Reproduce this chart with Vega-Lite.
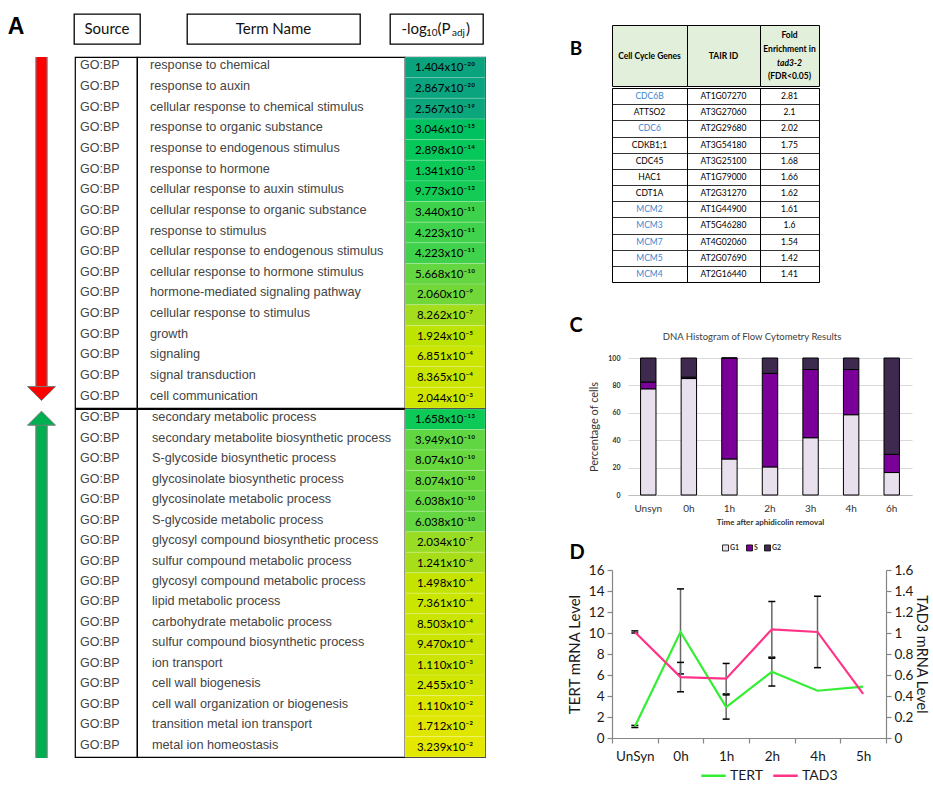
{
"$schema": "https://vega.github.io/schema/vega-lite/v6.json",
"padding": {"left": 0, "top": 13, "right": 0, "bottom": 0},
"background": "#ffffff",
"config": {"view": {"stroke": null}, "font": "Lato", "axis": {"labelFont": "Lato", "titleFont": "Lato"}, "legend": {"labelFont": "Lato"}, "title": {"font": "Lato"}},
"datasets": {
"terms": [
{"group": 1, "rank": 1, "source": "GO:BP", "term": "response to chemical", "label": "1.404x10⁻²⁰", "neglog": 19.853},
{"group": 1, "rank": 2, "source": "GO:BP", "term": "response to auxin", "label": "2.867x10⁻²⁰", "neglog": 19.543},
{"group": 1, "rank": 3, "source": "GO:BP", "term": "cellular response to chemical stimulus", "label": "2.567x10⁻¹⁹", "neglog": 18.591},
{"group": 1, "rank": 4, "source": "GO:BP", "term": "response to organic substance", "label": "3.046x10⁻¹⁵", "neglog": 14.516},
{"group": 1, "rank": 5, "source": "GO:BP", "term": "response to endogenous stimulus", "label": "2.898x10⁻¹⁴", "neglog": 13.538},
{"group": 1, "rank": 6, "source": "GO:BP", "term": "response to hormone", "label": "1.341x10⁻¹³", "neglog": 12.873},
{"group": 1, "rank": 7, "source": "GO:BP", "term": "cellular response to auxin stimulus", "label": "9.773x10⁻¹³", "neglog": 12.010},
{"group": 1, "rank": 8, "source": "GO:BP", "term": "cellular response to organic substance", "label": "3.440x10⁻¹¹", "neglog": 10.463},
{"group": 1, "rank": 9, "source": "GO:BP", "term": "response to stimulus", "label": "4.223x10⁻¹¹", "neglog": 10.374},
{"group": 1, "rank": 10, "source": "GO:BP", "term": "cellular response to endogenous stimulus", "label": "4.223x10⁻¹¹", "neglog": 10.374},
{"group": 1, "rank": 11, "source": "GO:BP", "term": "cellular response to hormone stimulus", "label": "5.668x10⁻¹⁰", "neglog": 9.247},
{"group": 1, "rank": 12, "source": "GO:BP", "term": "hormone-mediated signaling pathway", "label": "2.060x10⁻⁹", "neglog": 8.686},
{"group": 1, "rank": 13, "source": "GO:BP", "term": "cellular response to stimulus", "label": "8.262x10⁻⁷", "neglog": 6.083},
{"group": 1, "rank": 14, "source": "GO:BP", "term": "growth", "label": "1.924x10⁻⁵", "neglog": 4.716},
{"group": 1, "rank": 15, "source": "GO:BP", "term": "signaling", "label": "6.851x10⁻⁴", "neglog": 3.164},
{"group": 1, "rank": 16, "source": "GO:BP", "term": "signal transduction", "label": "8.365x10⁻⁴", "neglog": 3.078},
{"group": 1, "rank": 17, "source": "GO:BP", "term": "cell communication", "label": "2.044x10⁻³", "neglog": 2.690},
{"group": 2, "rank": 1, "source": "GO:BP", "term": "secondary metabolic process", "label": "1.658x10⁻¹³", "neglog": 12.780},
{"group": 2, "rank": 2, "source": "GO:BP", "term": "secondary metabolite biosynthetic process", "label": "3.949x10⁻¹⁰", "neglog": 9.404},
{"group": 2, "rank": 3, "source": "GO:BP", "term": "S-glycoside biosynthetic process", "label": "8.074x10⁻¹⁰", "neglog": 9.093},
{"group": 2, "rank": 4, "source": "GO:BP", "term": "glycosinolate biosynthetic process", "label": "8.074x10⁻¹⁰", "neglog": 9.093},
{"group": 2, "rank": 5, "source": "GO:BP", "term": "glycosinolate metabolic process", "label": "6.038x10⁻¹⁰", "neglog": 9.219},
{"group": 2, "rank": 6, "source": "GO:BP", "term": "S-glycoside metabolic process", "label": "6.038x10⁻¹⁰", "neglog": 9.219},
{"group": 2, "rank": 7, "source": "GO:BP", "term": "glycosyl compound biosynthetic process", "label": "2.034x10⁻⁷", "neglog": 6.692},
{"group": 2, "rank": 8, "source": "GO:BP", "term": "sulfur compound metabolic process", "label": "1.241x10⁻⁶", "neglog": 5.906},
{"group": 2, "rank": 9, "source": "GO:BP", "term": "glycosyl compound metabolic process", "label": "1.498x10⁻⁴", "neglog": 3.824},
{"group": 2, "rank": 10, "source": "GO:BP", "term": "lipid metabolic process", "label": "7.361x10⁻⁴", "neglog": 3.133},
{"group": 2, "rank": 11, "source": "GO:BP", "term": "carbohydrate metabolic process", "label": "8.503x10⁻⁴", "neglog": 3.070},
{"group": 2, "rank": 12, "source": "GO:BP", "term": "sulfur compound biosynthetic process", "label": "9.470x10⁻⁴", "neglog": 3.024},
{"group": 2, "rank": 13, "source": "GO:BP", "term": "ion transport", "label": "1.110x10⁻³", "neglog": 2.955},
{"group": 2, "rank": 14, "source": "GO:BP", "term": "cell wall biogenesis", "label": "2.455x10⁻³", "neglog": 2.610},
{"group": 2, "rank": 15, "source": "GO:BP", "term": "cell wall organization or biogenesis", "label": "1.110x10⁻²", "neglog": 1.955},
{"group": 2, "rank": 16, "source": "GO:BP", "term": "transition metal ion transport", "label": "1.712x10⁻²", "neglog": 1.766},
{"group": 2, "rank": 17, "source": "GO:BP", "term": "metal ion homeostasis", "label": "3.239x10⁻²", "neglog": 1.490}
],
"arrows": [
{"group": 1, "direction": "down", "shaft_top": 0, "shaft_bottom": 16.0, "head": 16.3},
{"group": 2, "direction": "up", "shaft_top": 0.75, "shaft_bottom": 17.05, "head": 0.45}
],
"genes": [
{"rank": 1, "gene": "CDC6B", "tair": "AT1G07270", "fold": 2.81, "licensing": "yes"},
{"rank": 2, "gene": "ATTSO2", "tair": "AT3G27060", "fold": 2.1, "licensing": "no"},
{"rank": 3, "gene": "CDC6", "tair": "AT2G29680", "fold": 2.02, "licensing": "yes"},
{"rank": 4, "gene": "CDKB1;1", "tair": "AT3G54180", "fold": 1.75, "licensing": "no"},
{"rank": 5, "gene": "CDC45", "tair": "AT3G25100", "fold": 1.68, "licensing": "no"},
{"rank": 6, "gene": "HAC1", "tair": "AT1G79000", "fold": 1.66, "licensing": "no"},
{"rank": 7, "gene": "CDT1A", "tair": "AT2G31270", "fold": 1.62, "licensing": "no"},
{"rank": 8, "gene": "MCM2", "tair": "AT1G44900", "fold": 1.61, "licensing": "yes"},
{"rank": 9, "gene": "MCM3", "tair": "AT5G46280", "fold": 1.6, "licensing": "yes"},
{"rank": 10, "gene": "MCM7", "tair": "AT4G02060", "fold": 1.54, "licensing": "yes"},
{"rank": 11, "gene": "MCM5", "tair": "AT2G07690", "fold": 1.42, "licensing": "yes"},
{"rank": 12, "gene": "MCM4", "tair": "AT2G16440", "fold": 1.41, "licensing": "yes"}
],
"flow": [
{"time": "Unsyn", "phase": "G1", "phase_order": 1, "percent": 77.5},
{"time": "Unsyn", "phase": "S", "phase_order": 2, "percent": 5.0},
{"time": "Unsyn", "phase": "G2", "phase_order": 3, "percent": 17.5},
{"time": "0h", "phase": "G1", "phase_order": 1, "percent": 85.0},
{"time": "0h", "phase": "S", "phase_order": 2, "percent": 1.0},
{"time": "0h", "phase": "G2", "phase_order": 3, "percent": 14.0},
{"time": "1h", "phase": "G1", "phase_order": 1, "percent": 26.3},
{"time": "1h", "phase": "S", "phase_order": 2, "percent": 73.7},
{"time": "1h", "phase": "G2", "phase_order": 3, "percent": 0},
{"time": "2h", "phase": "G1", "phase_order": 1, "percent": 20.5},
{"time": "2h", "phase": "S", "phase_order": 2, "percent": 68.3},
{"time": "2h", "phase": "G2", "phase_order": 3, "percent": 11.2},
{"time": "3h", "phase": "G1", "phase_order": 1, "percent": 41.8},
{"time": "3h", "phase": "S", "phase_order": 2, "percent": 49.8},
{"time": "3h", "phase": "G2", "phase_order": 3, "percent": 8.4},
{"time": "4h", "phase": "G1", "phase_order": 1, "percent": 58.6},
{"time": "4h", "phase": "S", "phase_order": 2, "percent": 33.0},
{"time": "4h", "phase": "G2", "phase_order": 3, "percent": 8.4},
{"time": "6h", "phase": "G1", "phase_order": 1, "percent": 16.4},
{"time": "6h", "phase": "S", "phase_order": 2, "percent": 13.3},
{"time": "6h", "phase": "G2", "phase_order": 3, "percent": 70.3}
],
"mrna": [
{"time": "UnSyn", "series": "TERT", "value": 1.1, "lo": 1.0, "hi": 1.2},
{"time": "0h", "series": "TERT", "value": 10.1, "lo": 6.1, "hi": 14.2},
{"time": "1h", "series": "TERT", "value": 2.95, "lo": 1.8, "hi": 4.2},
{"time": "2h", "series": "TERT", "value": 6.3, "lo": 4.95, "hi": 7.7},
{"time": "4h", "series": "TERT", "value": 4.5, "lo": null, "hi": null},
{"time": "5h", "series": "TERT", "value": 4.9, "lo": null, "hi": null},
{"time": "UnSyn", "series": "TAD3", "value": 1.01, "lo": 1.0, "hi": 1.02},
{"time": "0h", "series": "TAD3", "value": 0.58, "lo": 0.44, "hi": 0.72},
{"time": "1h", "series": "TAD3", "value": 0.565, "lo": 0.41, "hi": 0.71},
{"time": "2h", "series": "TAD3", "value": 1.035, "lo": 0.76, "hi": 1.3},
{"time": "4h", "series": "TAD3", "value": 1.01, "lo": 0.67, "hi": 1.35},
{"time": "5h", "series": "TAD3", "value": 0.42, "lo": null, "hi": null}
]
},
"hconcat": [
{
"vconcat": [
{
"hconcat": [
{"width": 74, "height": 30, "data": {"values": [{}]}, "mark": {"type": "text", "font": "Liberation Sans", "fontSize": 23, "fontWeight": "bold", "dx": -21, "dy": -2, "color": "#000"}, "encoding": {"text": {"value": "A"}}},
{"width": 66, "height": 30, "view": {"stroke": "#000", "strokeWidth": 1.3}, "data": {"values": [{}]}, "mark": {"type": "text", "font": "Lato", "fontSize": 15, "color": "#111"}, "encoding": {"text": {"value": "Source"}}},
{"width": 47, "height": 30, "data": {"values": [{}]}, "mark": "text", "encoding": {"text": {"value": ""}}},
{"width": 173, "height": 30, "view": {"stroke": "#000", "strokeWidth": 1.3}, "data": {"values": [{}]}, "mark": {"type": "text", "font": "Lato", "fontSize": 15, "color": "#111"}, "encoding": {"text": {"value": "Term Name"}}},
{"width": 30, "height": 30, "data": {"values": [{}]}, "mark": "text", "encoding": {"text": {"value": ""}}},
{"width": 93, "height": 30, "view": {"stroke": "#000", "strokeWidth": 1.3}, "data": {"values": [{}]},
 "layer": [
  {"mark": {"type": "text", "align": "left", "dx": -35, "font": "Lato", "fontSize": 15, "color": "#111"}, "encoding": {"text": {"value": "-log"}}},
  {"mark": {"type": "text", "align": "left", "dx": -10.5, "dy": 4, "font": "Lato", "fontSize": 10, "color": "#111"}, "encoding": {"text": {"value": "10"}}},
  {"mark": {"type": "text", "align": "left", "dx": 1, "font": "Lato", "fontSize": 15, "color": "#111"}, "encoding": {"text": {"value": "(P"}}},
  {"mark": {"type": "text", "align": "left", "dx": 15.5, "dy": 4, "font": "Lato", "fontSize": 10, "color": "#111"}, "encoding": {"text": {"value": "adj"}}},
  {"mark": {"type": "text", "align": "left", "dx": 29.5, "font": "Lato", "fontSize": 15, "color": "#111"}, "encoding": {"text": {"value": ")"}}}
 ]}
],
"spacing": 0, "bounds": "flush"
},
{
"vconcat": [
{
"hconcat": [
{"width": 75, "height": 351, "data": {"name": "arrows"}, "transform": [{"filter": "datum.group == 1"}],
 "encoding": {"x": {"field": "direction", "type": "nominal", "axis": null}},
 "layer": [
  {"mark": {"type": "rule", "strokeWidth": 12.5, "color": "#7a7a7a", "xOffset": 4}, "encoding": {"y": {"field": "shaft_top", "type": "quantitative", "scale": {"domain": [0, 17], "reverse": true, "nice": false, "zero": false}, "axis": null}, "y2": {"field": "shaft_bottom"}}},
  {"mark": {"type": "rule", "strokeWidth": 10, "xOffset": 4}, "encoding": {"y": {"field": "shaft_top", "type": "quantitative", "axis": null}, "y2": {"field": "shaft_bottom"}, "color": {"field": "direction", "type": "nominal", "scale": {"domain": ["down", "up"], "range": ["#ff0000", "#00b050"]}, "legend": null}}},
  {"mark": {"type": "point", "filled": true, "opacity": 1, "size": 784, "stroke": "#7a7a7a", "strokeWidth": 1, "xOffset": 4}, "encoding": {"y": {"field": "head", "type": "quantitative", "axis": null}, "color": {"field": "direction", "type": "nominal", "scale": {"domain": ["down", "up"], "range": ["#ff0000", "#00b050"]}, "legend": null}, "shape": {"field": "direction", "type": "nominal", "scale": {"domain": ["down", "up"], "range": ["M-1,-0.5L1,-0.5L0,0.5Z", "M-1,0.5L1,0.5L0,-0.5Z"]}, "legend": null}}}
 ]},
{"width": 62, "height": 351, "view": {"stroke": "#000", "strokeWidth": 1.2}, "data": {"name": "terms"}, "transform": [{"filter": "datum.group == 1"}],
 "mark": {"type": "text", "align": "left", "dx": 5, "dy": -2, "font": "Liberation Sans", "fontSize": 12.5, "color": "#444"},
 "encoding": {"y": {"field": "rank", "type": "ordinal", "axis": null, "scale": {"paddingInner": 0, "paddingOuter": 0}}, "x": {"datum": 0, "type": "quantitative", "scale": {"domain": [0, 1]}, "axis": null}, "text": {"field": "source"}}},
{"width": 268, "height": 351, "view": {"stroke": "#000", "strokeWidth": 1.2}, "data": {"name": "terms"}, "transform": [{"filter": "datum.group == 1"}],
 "mark": {"type": "text", "align": "left", "dx": 13, "dy": -2, "font": "Liberation Sans", "fontSize": 12.7, "color": "#444"},
 "encoding": {"y": {"field": "rank", "type": "ordinal", "axis": null, "scale": {"paddingInner": 0, "paddingOuter": 0}}, "x": {"datum": 0, "type": "quantitative", "scale": {"domain": [0, 1]}, "axis": null}, "text": {"field": "term"}}},
{"width": 80, "height": 351, "view": {"stroke": "#3a3a3a", "strokeWidth": 1.2}, "data": {"name": "terms"}, "transform": [{"filter": "datum.group == 1"}],
 "encoding": {"y": {"field": "rank", "type": "ordinal", "axis": null, "scale": {"paddingInner": 0, "paddingOuter": 0}}},
 "layer": [
  {"mark": {"type": "rect", "stroke": "#ffffff", "strokeOpacity": 0.3, "strokeWidth": 0.6}, "encoding": {"x": {"datum": 0, "type": "quantitative", "scale": {"domain": [0, 1]}, "axis": null}, "x2": {"datum": 1}, "color": {"field": "neglog", "type": "quantitative", "scale": {"domain": [1.49, 3.0, 4.7, 6.1, 8.7, 10.4, 12.0, 13.6, 14.6, 18.5, 19.9], "range": ["#e4e800", "#cbe500", "#bde300", "#a4dd1c", "#72d83a", "#3fd24c", "#13cb55", "#05c75a", "#00c060", "#0ba67c", "#0aa37e"]}, "legend": null}}},
  {"mark": {"type": "text", "font": "Lato", "fontSize": 11.5, "color": "#000", "dy": 1}, "encoding": {"text": {"field": "label"}}}
 ]}
],
"spacing": 0, "bounds": "flush", "resolve": {"scale": {"color": "independent", "shape": "independent"}}
},
{
"hconcat": [
{"width": 75, "height": 348, "data": {"name": "arrows"}, "transform": [{"filter": "datum.group == 2"}],
 "encoding": {"x": {"field": "direction", "type": "nominal", "axis": null}},
 "layer": [
  {"mark": {"type": "rule", "strokeWidth": 12.5, "color": "#7a7a7a", "xOffset": 4}, "encoding": {"y": {"field": "shaft_top", "type": "quantitative", "scale": {"domain": [0, 17], "reverse": true, "nice": false, "zero": false}, "axis": null}, "y2": {"field": "shaft_bottom"}}},
  {"mark": {"type": "rule", "strokeWidth": 10, "xOffset": 4}, "encoding": {"y": {"field": "shaft_top", "type": "quantitative", "axis": null}, "y2": {"field": "shaft_bottom"}, "color": {"field": "direction", "type": "nominal", "scale": {"domain": ["down", "up"], "range": ["#ff0000", "#00b050"]}, "legend": null}}},
  {"mark": {"type": "point", "filled": true, "opacity": 1, "size": 784, "stroke": "#7a7a7a", "strokeWidth": 1, "xOffset": 4}, "encoding": {"y": {"field": "head", "type": "quantitative", "axis": null}, "color": {"field": "direction", "type": "nominal", "scale": {"domain": ["down", "up"], "range": ["#ff0000", "#00b050"]}, "legend": null}, "shape": {"field": "direction", "type": "nominal", "scale": {"domain": ["down", "up"], "range": ["M-1,-0.5L1,-0.5L0,0.5Z", "M-1,0.5L1,0.5L0,-0.5Z"]}, "legend": null}}}
 ]},
{"width": 62, "height": 348, "view": {"stroke": "#000", "strokeWidth": 1.2}, "data": {"name": "terms"}, "transform": [{"filter": "datum.group == 2"}],
 "mark": {"type": "text", "align": "left", "dx": 5, "dy": -2, "font": "Liberation Sans", "fontSize": 12.5, "color": "#444"},
 "encoding": {"y": {"field": "rank", "type": "ordinal", "axis": null, "scale": {"paddingInner": 0, "paddingOuter": 0}}, "x": {"datum": 0, "type": "quantitative", "scale": {"domain": [0, 1]}, "axis": null}, "text": {"field": "source"}}},
{"width": 268, "height": 348, "view": {"stroke": "#000", "strokeWidth": 1.2}, "data": {"name": "terms"}, "transform": [{"filter": "datum.group == 2"}],
 "mark": {"type": "text", "align": "left", "dx": 15, "dy": -2, "font": "Liberation Sans", "fontSize": 12.7, "color": "#444"},
 "encoding": {"y": {"field": "rank", "type": "ordinal", "axis": null, "scale": {"paddingInner": 0, "paddingOuter": 0}}, "x": {"datum": 0, "type": "quantitative", "scale": {"domain": [0, 1]}, "axis": null}, "text": {"field": "term"}}},
{"width": 80, "height": 348, "view": {"stroke": "#3a3a3a", "strokeWidth": 1.2}, "data": {"name": "terms"}, "transform": [{"filter": "datum.group == 2"}],
 "encoding": {"y": {"field": "rank", "type": "ordinal", "axis": null, "scale": {"paddingInner": 0, "paddingOuter": 0}}},
 "layer": [
  {"mark": {"type": "rect", "stroke": "#ffffff", "strokeOpacity": 0.3, "strokeWidth": 0.6}, "encoding": {"x": {"datum": 0, "type": "quantitative", "scale": {"domain": [0, 1]}, "axis": null}, "x2": {"datum": 1}, "color": {"field": "neglog", "type": "quantitative", "scale": {"domain": [1.49, 3.0, 4.7, 6.1, 8.7, 10.4, 12.0, 13.6, 14.6, 18.5, 19.9], "range": ["#e4e800", "#cbe500", "#bde300", "#a4dd1c", "#72d83a", "#3fd24c", "#13cb55", "#05c75a", "#00c060", "#0ba67c", "#0aa37e"]}, "legend": null}}},
  {"mark": {"type": "text", "font": "Lato", "fontSize": 11.5, "color": "#000", "dy": 1}, "encoding": {"text": {"field": "label"}}}
 ]}
],
"spacing": 0, "bounds": "flush", "resolve": {"scale": {"color": "independent", "shape": "independent"}}
}
],
"spacing": -1, "resolve": {"scale": {"color": "independent", "shape": "independent"}}
}
],
"spacing": 5, "resolve": {"scale": {"color": "independent", "shape": "independent"}}
},
{
"vconcat": [
{"width": 1, "height": 10, "data": {"values": [{}]}, "mark": "text", "encoding": {"text": {"value": ""}}},
{
"vconcat": [
{
"hconcat": [
{"width": 51, "height": 61, "data": {"values": [{}]}, "mark": {"type": "text", "font": "Lato", "fontSize": 19, "fontWeight": "bold", "dx": -9.5, "dy": -6.5, "color": "#000"}, "encoding": {"text": {"value": "B"}}},
{
"vconcat": [
{
"hconcat": [
{"width": 75, "height": 61, "view": {"stroke": "#000", "fill": "#e2efda"}, "data": {"values": [{}]}, "mark": {"type": "text", "font": "Lato", "fontSize": 8.5, "fontWeight": "bold", "color": "#000"}, "encoding": {"text": {"value": "Cell Cycle Genes"}}},
{"width": 73, "height": 61, "view": {"stroke": "#000", "fill": "#e2efda"}, "data": {"values": [{}]}, "mark": {"type": "text", "font": "Lato", "fontSize": 8.5, "fontWeight": "bold", "color": "#000"}, "encoding": {"text": {"value": "TAIR ID"}}},
{"width": 59, "height": 61, "view": {"stroke": "#000", "fill": "#e2efda"}, "data": {"values": [{}]},
 "layer": [
  {"mark": {"type": "text", "font": "Lato", "fontSize": 8.5, "fontWeight": "bold", "color": "#000", "dy": -20.5}, "encoding": {"text": {"value": "Fold"}}},
  {"mark": {"type": "text", "font": "Lato", "fontSize": 8.5, "fontWeight": "bold", "color": "#000", "dy": -7}, "encoding": {"text": {"value": "Enrichment in"}}},
  {"mark": {"type": "text", "font": "Lato", "fontSize": 8.5, "fontWeight": "bold", "fontStyle": "italic", "color": "#000", "dy": 7}, "encoding": {"text": {"value": "tad3-2"}}},
  {"mark": {"type": "text", "font": "Lato", "fontSize": 8.5, "fontWeight": "bold", "color": "#000", "dy": 20.5}, "encoding": {"text": {"value": "(FDR<0.05)"}}}
 ]}
],
"spacing": 0, "bounds": "flush"
},
{
"hconcat": [
{"width": 75, "height": 194, "view": {"stroke": "#000"}, "data": {"name": "genes"},
 "mark": {"type": "text", "font": "Lato", "fontSize": 8.5},
 "encoding": {"y": {"field": "rank", "type": "ordinal", "scale": {"paddingInner": 0, "paddingOuter": 0}, "axis": {"title": null, "labels": false, "ticks": false, "domain": false, "grid": true, "gridColor": "#000", "gridWidth": 0.8, "gridOpacity": 1, "tickBand": "extent"}}, "text": {"field": "gene"}, "color": {"field": "licensing", "type": "nominal", "scale": {"domain": ["yes", "no"], "range": ["#3a86d0", "#000000"]}, "legend": null}}},
{"width": 73, "height": 194, "view": {"stroke": "#000"}, "data": {"name": "genes"},
 "mark": {"type": "text", "font": "Lato", "fontSize": 8.5, "color": "#000"},
 "encoding": {"y": {"field": "rank", "type": "ordinal", "scale": {"paddingInner": 0, "paddingOuter": 0}, "axis": {"title": null, "labels": false, "ticks": false, "domain": false, "grid": true, "gridColor": "#000", "gridWidth": 0.8, "gridOpacity": 1, "tickBand": "extent"}}, "text": {"field": "tair"}}},
{"width": 59, "height": 194, "view": {"stroke": "#000"}, "data": {"name": "genes"},
 "mark": {"type": "text", "font": "Lato", "fontSize": 8.5, "color": "#000"},
 "encoding": {"y": {"field": "rank", "type": "ordinal", "scale": {"paddingInner": 0, "paddingOuter": 0}, "axis": {"title": null, "labels": false, "ticks": false, "domain": false, "grid": true, "gridColor": "#000", "gridWidth": 0.8, "gridOpacity": 1, "tickBand": "extent"}}, "text": {"field": "fold", "type": "quantitative", "format": "~g"}}}
],
"spacing": 0, "bounds": "flush"
}
],
"spacing": 0
}
],
"spacing": 0
},
{
"vconcat": [
{
"hconcat": [
{"width": 68, "height": 137, "data": {"values": [{}]}, "mark": {"type": "text", "font": "Lato", "fontSize": 20, "fontWeight": "bold", "dx": -18, "dy": -100.5, "color": "#000"}, "encoding": {"text": {"value": "C"}}},
{"width": 284, "height": 137,
 "title": {"text": "DNA Histogram of Flow Cytometry Results", "fontSize": 9.5, "fontWeight": "normal", "color": "#404040", "offset": 13, "dx": -18},
 "data": {"name": "flow"},
 "mark": {"type": "bar", "stroke": "#000", "strokeWidth": 1},
 "encoding": {
  "x": {"field": "time", "type": "nominal", "sort": ["Unsyn", "0h", "1h", "2h", "3h", "4h", "6h"], "scale": {"paddingInner": 0.62, "paddingOuter": 0.31}, "axis": {"title": "Time after aphidicolin removal", "labelAngle": 0, "ticks": false, "domainColor": "#bfbfbf", "labelFontSize": 10, "labelColor": "#333", "labelPadding": 8, "titleFontSize": 8, "titleFontWeight": "bold", "titleColor": "#333", "titlePadding": 5}},
  "y": {"field": "percent", "type": "quantitative", "stack": "zero", "scale": {"domain": [0, 100], "nice": false}, "axis": {"values": [0, 20, 40, 60, 80, 100], "title": "Percentage of cells", "titleFontSize": 11, "titleFontWeight": "normal", "titleColor": "#333", "titlePadding": 8, "labelFontSize": 7, "labelFontWeight": "bold", "labelColor": "#333", "labelPadding": 8, "domain": false, "ticks": false, "gridColor": "#d9d9d9"}},
  "color": {"field": "phase", "type": "nominal", "scale": {"domain": ["G1", "S", "G2"], "range": ["#e8e0ec", "#7b0099", "#3f2a4f"]}, "legend": {"orient": "none", "legendX": 162, "legendY": 186, "direction": "horizontal", "title": null, "symbolType": "square", "symbolSize": 36, "symbolStrokeColor": "#000", "symbolStrokeWidth": 0.8, "labelFontSize": 7, "labelFontWeight": "bold", "labelColor": "#333", "columnPadding": 4, "labelOffset": 1}},
  "order": {"field": "phase_order", "type": "quantitative"}
 }}
],
"spacing": 0, "bounds": "flush"
},
{
"hconcat": [
{"width": 52, "height": 168, "data": {"values": [{}]}, "mark": {"type": "text", "font": "Lato", "fontSize": 20, "fontWeight": "bold", "dx": -9, "dy": -101, "color": "#000"}, "encoding": {"text": {"value": "D"}}},
{"width": 274, "height": 168,
 "data": {"name": "mrna"},
 "encoding": {"x": {"field": "time", "type": "nominal", "sort": ["UnSyn", "0h", "1h", "2h", "4h", "5h"], "scale": {"type": "band", "paddingInner": 0, "paddingOuter": 0}, "axis": {"title": null, "labelAngle": 0, "labelFontSize": 13.5, "labelColor": "#1a1a1a", "labelPadding": 6, "tickBand": "extent", "tickSize": 5, "tickColor": "#868686", "tickWidth": 1.2, "domainColor": "#868686", "domainWidth": 1.2, "grid": false}}},
 "layer": [
  {"transform": [{"filter": "datum.series == 'TERT'"}],
   "encoding": {"y": {"field": "value", "type": "quantitative", "title": "TERT mRNA Level", "scale": {"domain": [0, 16], "nice": false}, "axis": {"orient": "left", "values": [0, 2, 4, 6, 8, 10, 12, 14, 16], "title": "TERT mRNA Level", "titleFontSize": 15, "titleFontWeight": "normal", "titleColor": "#1a1a1a", "titlePadding": 6, "labelFontSize": 13.5, "labelColor": "#1a1a1a", "labelPadding": 3, "tickSize": 5, "tickColor": "#868686", "tickWidth": 1.2, "domainColor": "#868686", "domainWidth": 1.2, "grid": false}}},
   "layer": [
    {"transform": [{"filter": "datum.lo != null"}], "mark": {"type": "rule", "color": "#666666", "strokeWidth": 1.5}, "encoding": {"y": {"field": "lo", "type": "quantitative", "title": "TERT mRNA Level"}, "y2": {"field": "hi"}}},
    {"transform": [{"filter": "datum.lo != null"}], "mark": {"type": "point", "shape": "stroke", "size": 49, "color": "#000", "strokeWidth": 1.5, "opacity": 1}, "encoding": {"y": {"field": "lo", "type": "quantitative", "title": "TERT mRNA Level"}}},
    {"transform": [{"filter": "datum.lo != null"}], "mark": {"type": "point", "shape": "stroke", "size": 49, "color": "#000", "strokeWidth": 1.5, "opacity": 1}, "encoding": {"y": {"field": "hi", "type": "quantitative", "title": "TERT mRNA Level"}}},
    {"mark": {"type": "line", "strokeWidth": 2.2}, "encoding": {"color": {"field": "series", "type": "nominal", "scale": {"domain": ["TERT", "TAD3"], "range": ["#33ee33", "#ff3388"]}, "legend": {"orient": "none", "legendX": 140, "legendY": 192, "direction": "horizontal", "title": null, "symbolType": "stroke", "symbolSize": 600, "symbolStrokeWidth": 2.5, "labelFontSize": 14, "labelColor": "#1a1a1a", "columnPadding": 4, "labelOffset": 3}}}}
   ]},
  {"transform": [{"filter": "datum.series == 'TAD3'"}],
   "encoding": {"y": {"field": "value", "type": "quantitative", "title": "TAD3 mRNA Level", "scale": {"domain": [0, 1.6], "nice": false}, "axis": {"orient": "right", "values": [0, 0.2, 0.4, 0.6, 0.8, 1, 1.2, 1.4, 1.6], "format": "~g", "title": "TAD3 mRNA Level", "titleFontSize": 14.5, "titleFontWeight": "normal", "titleColor": "#1a1a1a", "titlePadding": 1, "labelFontSize": 13.5, "labelColor": "#1a1a1a", "labelPadding": 3, "tickSize": 5, "tickColor": "#868686", "tickWidth": 1.2, "domainColor": "#868686", "domainWidth": 1.2, "grid": false}}},
   "layer": [
    {"transform": [{"filter": "datum.lo != null"}], "mark": {"type": "rule", "color": "#666666", "strokeWidth": 1.5}, "encoding": {"y": {"field": "lo", "type": "quantitative", "title": "TAD3 mRNA Level"}, "y2": {"field": "hi"}}},
    {"transform": [{"filter": "datum.lo != null"}], "mark": {"type": "point", "shape": "stroke", "size": 49, "color": "#000", "strokeWidth": 1.5, "opacity": 1}, "encoding": {"y": {"field": "lo", "type": "quantitative", "title": "TAD3 mRNA Level"}}},
    {"transform": [{"filter": "datum.lo != null"}], "mark": {"type": "point", "shape": "stroke", "size": 49, "color": "#000", "strokeWidth": 1.5, "opacity": 1}, "encoding": {"y": {"field": "hi", "type": "quantitative", "title": "TAD3 mRNA Level"}}},
    {"mark": {"type": "line", "strokeWidth": 2.2}, "encoding": {"color": {"field": "series", "type": "nominal", "scale": {"domain": ["TERT", "TAD3"], "range": ["#33ee33", "#ff3388"]}, "legend": {"orient": "none", "legendX": 140, "legendY": 192, "direction": "horizontal", "title": null, "symbolType": "stroke", "symbolSize": 600, "symbolStrokeWidth": 2.5, "labelFontSize": 14, "labelColor": "#1a1a1a", "columnPadding": 4, "labelOffset": 3}}}}
   ]}
 ],
 "resolve": {"scale": {"y": "independent"}}}
],
"spacing": 0, "bounds": "flush"
}
],
"spacing": -10, "resolve": {"scale": {"color": "independent", "shape": "independent"}}
}
],
"spacing": 33, "resolve": {"scale": {"color": "independent", "shape": "independent"}}
}
],
"spacing": 0, "resolve": {"scale": {"color": "independent", "shape": "independent"}}
}
],
"spacing": 74,
"resolve": {"scale": {"color": "independent", "shape": "independent"}}
}
